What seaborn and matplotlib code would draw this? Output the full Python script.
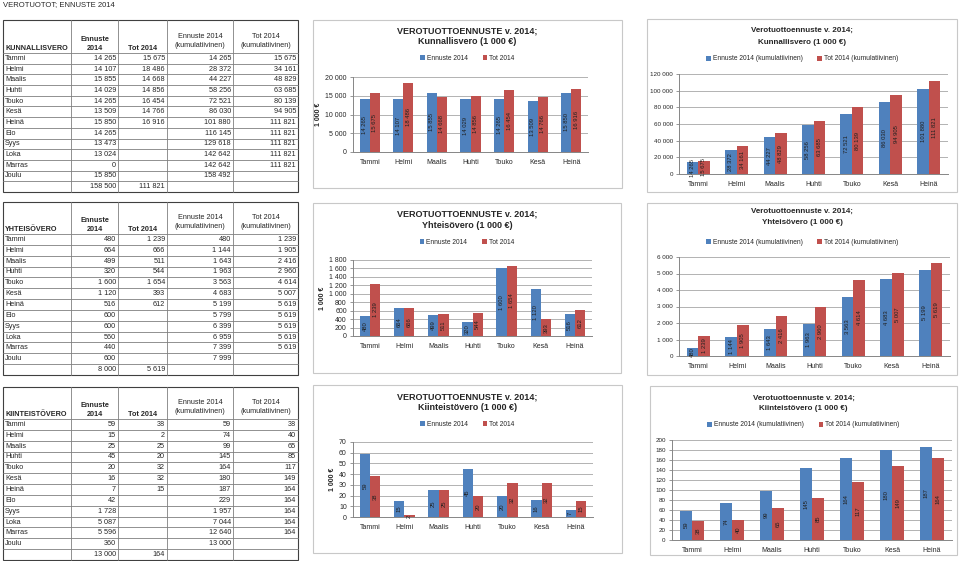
import numpy as np
import pandas as pd
import matplotlib
matplotlib.use('Agg')
import matplotlib.pyplot as plt
import seaborn as sns
from matplotlib.ticker import FuncFormatter, MultipleLocator
from matplotlib.patches import Rectangle

# kuukaudet
kuukaudet = ['Tammi', 'Helmi', 'Maalis', 'Huhti', 'Touko', 'Kesä', 'Heinä',
             'Elo', 'Syys', 'Loka', 'Marras', 'Joulu']

# kunnallisvero (1 000 €)
kunn_ennuste = [14265, 14107, 15855, 14029, 14265, 13509, 15850, 14265, 13473, 13024, 0, 15850]
kunn_tot = [15675, 18486, 14668, 14856, 16454, 14766, 16916]
kunn_ennuste_kum = [14265, 28372, 44227, 58256, 72521, 86030, 101880, 116145, 129618, 142642, 142642, 158492]
kunn_tot_kum = [15675, 34161, 48829, 63685, 80139, 94905, 111821, 111821, 111821, 111821, 111821]
kunn_yht = [158500, 111821]

# yhteisövero
yht_ennuste = [480, 664, 499, 320, 1600, 1120, 516, 600, 600, 560, 440, 600]
yht_tot = [1239, 666, 511, 544, 1654, 393, 612]
yht_ennuste_kum = [480, 1144, 1643, 1963, 3563, 4683, 5199, 5799, 6399, 6959, 7399, 7999]
yht_tot_kum = [1239, 1905, 2416, 2960, 4614, 5007, 5619, 5619, 5619, 5619, 5619]
yht_yht = [8000, 5619]

# kiinteistövero
kiint_ennuste = [59, 15, 25, 45, 20, 16, 7, 42, 1728, 5087, 5596, 360]
kiint_tot = [38, 2, 25, 20, 32, 32, 15]
kiint_ennuste_kum = [59, 74, 99, 145, 164, 180, 187, 229, 1957, 7044, 12640, 13000]
kiint_tot_kum = [38, 40, 65, 85, 117, 149, 164, 164, 164, 164, 164]
kiint_yht = [13000, 164]

SININEN = '#4F81BD'
PUNAINEN = '#C0504D'
W, H = 960, 561

sns.set_style('white')
plt.rcParams['font.family'] = ['Liberation Sans', 'DejaVu Sans']


def fmt(v):
    return f'{int(v):,}'.replace(',', ' ')


def fx(x):
    return x / W


def fy(y):
    return 1 - y / H


fig = plt.figure(figsize=(W / 100, H / 100), dpi=100)
bg = fig.add_axes([0, 0, 1, 1])
bg.set_xlim(0, W)
bg.set_ylim(H, 0)
bg.axis('off')

bg.text(3, 5, 'VEROTUOTOT; ENNUSTE 2014', fontsize=5.5, va='center', ha='left')


def taulukko(nimi, ennuste, tot, ennuste_kum, tot_kum, yht, top, head, bottom):
    cols = [3, 71, 118, 167, 233, 298]
    n = 13
    rh = (bottom - head) / n
    for x in cols[1:-1]:
        bg.plot([x, x], [top, bottom], color='#7f7f7f', lw=0.6)
    for i in range(n):
        y = head + i * rh
        bg.plot([cols[0], cols[-1]], [y, y], color='#7f7f7f', lw=0.6)
    bg.add_patch(Rectangle((cols[0], top), cols[-1] - cols[0], bottom - top,
                           fill=False, edgecolor='#404040', lw=0.8))
    hy = head - 5
    bg.text(cols[0] + 2, hy, nimi, fontsize=5.2, fontweight='bold', va='center')
    bg.text((cols[1] + cols[2]) / 2, hy - 9, 'Ennuste', fontsize=5.2, fontweight='bold', ha='center', va='center')
    bg.text((cols[1] + cols[2]) / 2, hy, '2014', fontsize=5.2, fontweight='bold', ha='center', va='center')
    bg.text((cols[2] + cols[3]) / 2, hy, 'Tot 2014', fontsize=5.2, fontweight='bold', ha='center', va='center')
    bg.text((cols[3] + cols[4]) / 2, hy - 12, 'Ennuste 2014', fontsize=5.2, ha='center', va='center')
    bg.text((cols[3] + cols[4]) / 2, hy - 3, '(kumulatiivinen)', fontsize=5.2, ha='center', va='center')
    bg.text((cols[4] + cols[5]) / 2, hy - 12, 'Tot 2014', fontsize=5.2, ha='center', va='center')
    bg.text((cols[4] + cols[5]) / 2, hy - 3, '(kumulatiivinen)', fontsize=5.2, ha='center', va='center')
    for i, m in enumerate(kuukaudet):
        y = head + (i + 0.5) * rh
        bg.text(cols[0] + 2, y, m, fontsize=5.2, va='center')
        bg.text(cols[2] - 2, y, fmt(ennuste[i]), fontsize=5.2, va='center', ha='right')
        if i < len(tot):
            bg.text(cols[3] - 2, y, fmt(tot[i]), fontsize=5.2, va='center', ha='right')
        bg.text(cols[4] - 2, y, fmt(ennuste_kum[i]), fontsize=5.2, va='center', ha='right')
        if i < len(tot_kum):
            bg.text(cols[5] - 2, y, fmt(tot_kum[i]), fontsize=5.2, va='center', ha='right')
    y = head + 12.5 * rh
    bg.text(cols[2] - 2, y, fmt(yht[0]), fontsize=5.2, va='center', ha='right')
    bg.text(cols[3] - 2, y, fmt(yht[1]), fontsize=5.2, va='center', ha='right')


def kaavio(sarja1, sarja2, nimet, otsikko, ymax, step, box, axbox, ty, ly,
           tsize, ylabel, tick_fs):
    x0, y0, x1, y1 = box
    bg.add_patch(Rectangle((x0, y0), x1 - x0, y1 - y0, fill=False, edgecolor='#c8c8c8', lw=0.8))
    cx = (x0 + x1) / 2
    for t, yy in zip(otsikko, ty):
        fig.text(fx(cx), fy(yy), t, ha='center', va='center', fontsize=tsize, fontweight='bold')
    l, r, t, b = axbox
    ax = fig.add_axes([fx(l), fy(b), (r - l) / W, (b - t) / H])
    df = pd.DataFrame({'Kuukausi': kuukaudet[:7] * 2,
                       'Arvo': list(sarja1[:7]) + list(sarja2[:7]),
                       'Sarja': [nimet[0]] * 7 + [nimet[1]] * 7})
    sns.barplot(data=df, x='Kuukausi', y='Arvo', hue='Sarja', palette=[SININEN, PUNAINEN],
                width=0.6, saturation=1, errorbar=None, linewidth=0, ax=ax)
    for cont, vals in zip(ax.containers, [sarja1[:7], sarja2[:7]]):
        ax.bar_label(cont, labels=[fmt(v) for v in vals], label_type='center',
                     rotation=90, fontsize=4.2, color='#202020')
    ax.set_ylim(0, ymax)
    ax.set_xlim(-0.5, 6.5)
    ax.yaxis.set_major_locator(MultipleLocator(step))
    ax.yaxis.set_major_formatter(FuncFormatter(lambda v, p: fmt(v)))
    ax.yaxis.grid(True, color='#a6a6a6', lw=0.6)
    ax.set_axisbelow(True)
    for s in ['top', 'right']:
        ax.spines[s].set_visible(False)
    for s in ['left', 'bottom']:
        ax.spines[s].set_color('#868686')
        ax.spines[s].set_linewidth(0.7)
    ax.set_xticks(np.arange(-0.5, 7, 1), minor=True)
    ax.tick_params(axis='x', which='minor', length=3, color='#868686', width=0.6)
    ax.tick_params(axis='x', which='major', length=0, labelsize=5, pad=5, labelcolor='#262626')
    ax.tick_params(axis='y', length=2.5, color='#868686', width=0.6, labelsize=tick_fs,
                   pad=2, labelcolor='#262626', left=True)
    ax.set_xlabel('')
    if ylabel:
        ax.set_ylabel('1 000 €', fontsize=5, fontweight='bold', labelpad=2)
    else:
        ax.set_ylabel('')
    handles, labels = ax.get_legend_handles_labels()
    ax.legend(handles, labels, loc='center', bbox_to_anchor=(fx(cx), fy(ly)),
              bbox_transform=fig.transFigure, ncol=2, frameon=False, fontsize=4.8,
              handlelength=0.7, handleheight=0.7, handletextpad=0.3, columnspacing=2.2)
    return ax


mid = ['Ennuste 2014', 'Tot 2014']
kum = ['Ennuste 2014 (kumulatiivinen)', 'Tot 2014 (kumulatiivinen)']

# kunnallisvero
taulukko('KUNNALLISVERO', kunn_ennuste, kunn_tot, kunn_ennuste_kum, kunn_tot_kum, kunn_yht, 20, 53, 192)
kaavio(kunn_ennuste, kunn_tot, mid, ['VEROTUOTTOENNUSTE v. 2014;', 'Kunnallisvero (1 000 €)'],
       20000, 5000, (313, 20, 622, 188), (353, 588, 77, 152), (31, 42), 58, 6.5, True, 5)
kaavio(kunn_ennuste_kum, kunn_tot_kum, kum, ['Verotuottoennuste v. 2014;', 'Kunnallisvero (1 000 €)'],
       120000, 20000, (647, 19, 957, 192), (679, 948, 74, 174), (30, 43), 59, 5.8, False, 4.5)

# yhteisövero
taulukko('YHTEISÖVERO', yht_ennuste, yht_tot, yht_ennuste_kum, yht_tot_kum, yht_yht, 202, 234, 375)
kaavio(yht_ennuste, yht_tot, mid, ['VEROTUOTTOENNUSTE v. 2014;', 'Yhteisövero (1 000 €)'],
       1800, 200, (313, 203, 621, 373), (353, 592, 260, 336), (214, 226), 242, 6.5, True, 5)
kaavio(yht_ennuste_kum, yht_tot_kum, kum, ['Verotuottoennuste v. 2014;', 'Yhteisövero (1 000 €)'],
       6000, 1000, (647, 203, 957, 375), (679, 950, 257, 356), (211, 223), 242, 5.8, False, 4.5)

# kiinteistövero
taulukko('KIINTEISTÖVERO', kiint_ennuste, kiint_tot, kiint_ennuste_kum, kiint_tot_kum, kiint_yht, 387, 419, 560)
kaavio(kiint_ennuste, kiint_tot, mid, ['VEROTUOTTOENNUSTE v. 2014;', 'Kiinteistövero (1 000 €)'],
       70, 10, (313, 385, 622, 553), (353, 593, 442, 517), (397, 408), 424, 6.5, True, 5)
kaavio(kiint_ennuste_kum, kiint_tot_kum, kum, ['Verotuottoennuste v. 2014;', 'Kiinteistövero (1 000 €)'],
       200, 20, (650, 386, 957, 555), (672, 952, 440, 540), (398, 409), 425, 5.8, False, 4.5)

plt.savefig('out.png', dpi=100)
